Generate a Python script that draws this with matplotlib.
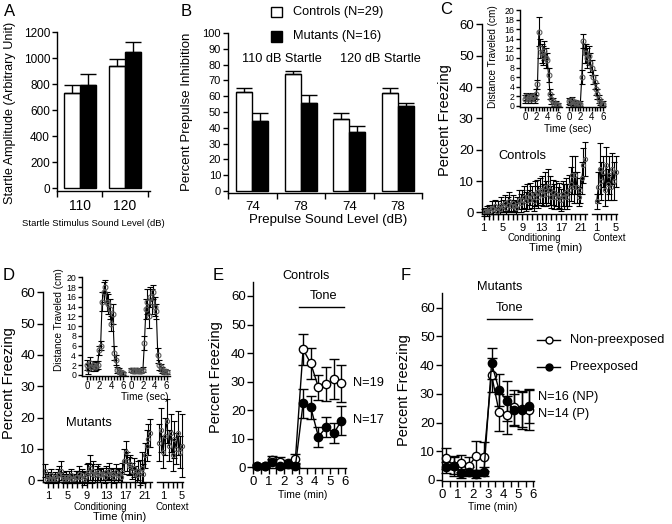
import matplotlib
matplotlib.use('Agg')
import matplotlib.pyplot as plt
import numpy as np
from matplotlib.patches import Rectangle
from matplotlib.lines import Line2D

plt.rcParams['font.family'] = ['Liberation Sans', 'DejaVu Sans']

# ---- A: startle amplitude
startle_levels = ['110', '120']
startle_ctrl = [735, 935]
startle_ctrl_err = [60, 60]
startle_mut = [795, 1045]
startle_mut_err = [80, 80]

# ---- B: prepulse inhibition
prepulse_levels = ['74', '78', '74', '78']
ppi_ctrl = [62.5, 74, 45.5, 62]
ppi_ctrl_err = [2.5, 2, 4, 3]
ppi_mut = [44, 55.5, 37.5, 53.5]
ppi_mut_err = [5.5, 5, 3.5, 2.5]

# ---- C: controls, conditioning (3 bins per minute) and context
c_cond_t = 1 + np.arange(64) / 3
c_cond = [0, 0.5, 0.5, 1, 0.5, 1.5, 1, 2, 0.5, 1.5, 1, 2.5,
          2, 3, 1.5, 2.5, 3.5, 2, 3, 2, 1.5, 2.5, 4, 3,
          4, 5, 3.5, 5, 4, 6, 5, 3.5, 6, 6.5, 5, 7,
          7, 5.5, 8, 6, 8.5, 7, 5, 6.5, 5, 6, 4.5, 5.5,
          4, 6, 5, 6.5, 5, 7, 9, 12, 8, 12, 8, 5,
          7, 11, 15, 17]
c_cond_err = [1, 1, 1.5, 1.5, 1, 2, 1.5, 2, 1, 2, 1.5, 2.5,
              2, 2.5, 2, 2.5, 3, 2, 2.5, 2, 2, 2.5, 3, 3,
              3, 3.5, 3, 4, 3, 3.5, 3.5, 3, 4, 4, 3.5, 4,
              4.5, 3.5, 5, 4, 5.5, 4.5, 3.5, 4, 4, 4, 3.5, 4,
              3.5, 4, 4, 4.5, 4, 5, 5.5, 6, 5, 6, 5, 3,
              4, 5, 5.5, 5.5]
c_ctx_t = 1 + np.arange(13) / 3
c_ctx = [3.5, 8, 14, 10, 13, 7, 15, 9, 12, 8, 14, 10, 13]
c_ctx_err = [2.5, 5, 8, 6, 5, 5, 6, 5, 6, 4, 5, 6, 5]

# ---- C inset: distance traveled around the two shocks
inset_t = np.arange(25) * 0.25
c_shock1 = [1.5, 2, 1.5, 1.8, 1.5, 2, 1.8, 1.5, 2.5, 4.5, 15.5, 12, 11,
            10.5, 11.5, 10, 9.5, 6.5, 2.5, 1.5, 1, 0.5, 0.5, 0.3, 0.3]
c_shock1_err = [0.8, 0.8, 0.8, 0.8, 0.8, 0.8, 0.8, 0.8, 1, 1, 3, 2, 2,
                2, 2, 2, 1.5, 1.5, 1, 1, 0.6, 0.5, 0.5, 0.4, 0.4]
c_shock2 = [1, 0.8, 1.2, 0.5, 0.8, 0.5, 0.6, 0.3, 0.5, 6, 13.5, 11, 11,
            10, 10.5, 9, 8, 6, 5, 3.5, 2.5, 1.5, 0.8, 0.5, 0.5]
c_shock2_err = [0.6, 0.6, 0.6, 0.5, 0.5, 0.5, 0.5, 0.4, 0.5, 1.5, 1.5, 2, 2,
                2, 2, 2, 1.5, 1.5, 1.5, 1.2, 1, 0.8, 0.6, 0.5, 0.5]

# ---- D: mutants, conditioning and context
d_cond_t = (1 + np.arange(66)) / 3
d_cond = [3, 0.5, 1, 0.5, 1.5, 0.5, 1, 0.5, 1.5, 2, 3, 1,
          0.5, 1, 0.5, 1, 1.5, 0.5, 0.5, 1, 1, 2, 1, 1.5,
          0.5, 1, 2, 2.5, 4, 2, 3, 1.5, 2, 2.5, 1.5, 2,
          2, 1, 2.5, 2, 3, 1.5, 2, 1, 2.5, 1.5, 2, 1,
          2.5, 6, 9, 6, 4.5, 5, 3, 4, 2, 1.5, 3, 2.5,
          4, 2, 8, 11, 13, 15]
d_cond_err = [2, 1.5, 1.5, 1.5, 2, 1.5, 1.5, 1.5, 2, 2.5, 3, 1.5,
              1.5, 2, 1.5, 2, 2, 1.5, 1.5, 2, 2, 2.5, 2, 2,
              2, 2, 3, 3, 4, 3, 3, 2, 2.5, 2.5, 2, 2,
              2, 2, 2, 2, 2.5, 2, 2, 2, 2.5, 2, 2, 1.5,
              3, 4, 3.5, 3, 3, 3, 2.5, 3, 2.5, 2, 3, 4,
              5, 3, 4, 5, 5, 4.5]
d_ctx_t = 0.2 + np.arange(13) * 0.4
d_ctx = [12, 16, 9, 14, 19, 11, 15, 8, 13, 10, 15, 9, 11]
d_ctx_err = [6, 7, 5, 6, 7, 5, 6, 5, 6, 5, 7, 5, 10]

d_shock1 = [2, 1.2, 2.5, 1.5, 2, 1.5, 1.8, 2, 5, 6, 15, 17, 18,
            15, 14.5, 13.5, 10.5, 12.5, 4.5, 3, 1, 0.8, 0.5, 0.3, 0.3]
d_shock1_err = [1, 1, 1.2, 0.8, 0.8, 0.8, 0.8, 0.8, 1, 1, 2, 2, 1.5,
                2, 2, 2, 1.5, 2, 1.5, 1, 0.6, 0.5, 0.4, 0.3, 0.3]
d_shock2 = [1, 0.8, 1, 0.8, 1, 0.8, 0.7, 0.8, 1, 6.5, 13.5, 15, 12,
            16, 15, 17, 14, 13, 4, 2, 1.5, 1, 0.5, 0.8, 0.5]
d_shock2_err = [0.4, 0.4, 0.4, 0.4, 0.4, 0.4, 0.4, 0.4, 0.5, 1.5, 2, 2.5, 2.5,
                2, 2.5, 1.5, 2, 1.5, 1.5, 1, 0.8, 0.6, 0.4, 0.4, 0.4]

# ---- E / F: tone test after preexposure
tone_t = np.arange(12) * 0.5 + 0.25
e_np = [0.5, 0.5, 2.5, 2, 1.5, 3, 41.3, 36.4, 28, 29.2, 30.8, 29.4]
e_np_err = [0.5, 0.5, 1.5, 1.5, 1, 1.5, 5.5, 5.5, 4.5, 6, 7, 6.5]
e_p = [0.5, 0.5, 2, 0.5, 1, 0.5, 22.4, 21, 10.7, 14, 11.9, 16.3]
e_p_err = [0.3, 0.3, 1, 0.5, 0.5, 0.5, 5, 4, 3.5, 3.5, 3.5, 5]
f_np = [7.5, 5, 5.8, 4.9, 8.5, 8.1, 36.6, 23.6, 22.6, 25.3, 24.6, 24.4]
f_np_err = [3.5, 3, 3, 3, 5, 5, 6, 6.5, 6.5, 6, 6, 7]
f_p = [4.4, 4.9, 2.3, 2.9, 2.1, 2.9, 40.6, 31.3, 27.5, 24.4, 24.4, 25.8]
f_p_err = [2, 3.5, 1.5, 1.5, 1.5, 1.5, 5.5, 5.5, 7, 5.5, 6.5, 6]

W, H = 672, 524
fig = plt.figure(figsize=(6.72, 5.24), dpi=100)


def box(l, t, r, b):
    # axes rectangle given in pixel coordinates (origin top-left)
    return fig.add_axes([l / W, 1 - b / H, (r - l) / W, (b - t) / H])


def txt(x, y, s, size, **kw):
    kw.setdefault('ha', 'center')
    fig.text(x / W, 1 - y / H, s, size=size, va='center', **kw)


def style(ax, left=True, size=9):
    for side in ['top', 'right']:
        ax.spines[side].set_visible(False)
    for side in ['left', 'bottom']:
        ax.spines[side].set_linewidth(1)
    if not left:
        ax.spines['left'].set_visible(False)
        ax.tick_params(axis='y', left=False, labelleft=False)
    ax.patch.set_alpha(0)
    ax.tick_params(direction='out', width=1, length=3.5, labelsize=size, pad=1.5)


def bars(ax, ctrl, ctrl_err, mut, mut_err, width):
    x = np.arange(len(ctrl))
    ekw = dict(ecolor='black', elinewidth=1, capsize=6, capthick=1)
    ax.bar(x - width / 2, ctrl, width, color='white', edgecolor='black', lw=1,
           yerr=[np.zeros(len(ctrl)), ctrl_err], error_kw=ekw)
    ax.bar(x + width / 2, mut, width, color='black', edgecolor='black', lw=1,
           yerr=[np.zeros(len(mut)), mut_err], error_kw=ekw)


def course(ax, t, y, err, ms=3):
    ax.errorbar(t, y, yerr=err, color='black', lw=0.8, elinewidth=0.8,
                capsize=2.5, capthick=0.8, marker='o', ms=ms, mfc='none',
                mec='#5a5a5a', mew=0.8, clip_on=False)


# ---------------- A
ax = box(57, 32, 150, 191)
style(ax, size=8.5)
bars(ax, startle_ctrl, startle_ctrl_err, startle_mut, startle_mut_err, 0.355)
ax.set_xlim(-0.5, 1.55)
ax.set_ylim(-22, 1200)
ax.set_yticks(range(0, 1201, 200))
ax.set_xticks(range(len(startle_levels)))
ax.set_xticklabels(startle_levels, size=10)
ax.tick_params(axis='x', length=0, pad=6)
ax.set_xticks([-0.5, 0.5, 1.5], minor=True)
ax.tick_params(axis='x', which='minor', length=4, width=1)
txt(4, 11, 'A', 12, ha='left')
txt(10, 113, 'Startle Amplitude (Arbitrary Unit)', 9.1, rotation=90)
txt(93, 223, 'Startle Stimulus Sound Level (dB)', 6.8)

# ---------------- B
ax = box(228, 33, 422, 192.7)
style(ax, size=8)
bars(ax, ppi_ctrl, ppi_ctrl_err, ppi_mut, ppi_mut_err, 0.33)
ax.set_xlim(-0.5, 3.5)
ax.set_ylim(-1.1, 100)
ax.set_yticks(range(0, 101, 10))
ax.set_xticks(range(len(prepulse_levels)))
ax.set_xticklabels(prepulse_levels, size=9.5)
ax.tick_params(axis='x', length=0, pad=6)
ax.set_xticks([-0.5, 0.5, 1.5, 2.5, 3.5], minor=True)
ax.tick_params(axis='x', which='minor', length=4, width=1)
txt(181, 12, 'B', 12, ha='left')
txt(187, 112, 'Percent Prepulse Inhibition', 9.5, rotation=90)
txt(328, 220, 'Prepulse Sound Level (dB)', 9.5)
txt(281.7, 59, '110 dB Startle', 9.2)
txt(380.7, 59, '120 dB Startle', 9.2)
fig.add_artist(Rectangle((271 / W, 1 - 17.3 / H), 10.7 / W, 10 / H, transform=fig.transFigure,
                         facecolor='white', edgecolor='black', lw=1))
fig.add_artist(Rectangle((271 / W, 1 - 41.7 / H), 10.7 / W, 10.5 / H, transform=fig.transFigure,
                         facecolor='black', edgecolor='black', lw=1))
txt(292.7, 12, 'Controls (N=29)', 9.2, ha='left')
txt(292.7, 36, 'Mutants (N=16)', 9.2, ha='left')


def freezing_panel(l, t, r_cond, l_ctx, r_ctx, b, cond_xlim, ctx_xlim,
                   cond_t, cond, cond_err, ctx_t, ctx, ctx_err):
    ax = box(l, t, r_cond, b)
    style(ax, size=9.5)
    course(ax, cond_t, cond, cond_err)
    ax.set_xlim(*cond_xlim)
    ax.set_ylim(-0.5, 60)
    ax.set_yticks(range(0, 61, 10))
    ax.set_xticks(range(1, 23))
    ax.set_xticklabels([str(m) if m % 4 == 1 else '' for m in range(1, 23)], size=8)
    ax.tick_params(axis='x', length=4.5, pad=2)
    ax.tick_params(axis='y', length=4.5)
    ax2 = box(l_ctx, t, r_ctx, b)
    style(ax2, left=False, size=8)
    course(ax2, ctx_t, ctx, ctx_err)
    ax2.set_xlim(*ctx_xlim)
    ax2.set_ylim(-0.5, 60)
    ax2.set_xticks(range(1, 6))
    ax2.set_xticklabels(['1', '', '', '', '5'], size=8)
    ax2.tick_params(axis='x', length=4.5, pad=2)


def inset(l1, r1, l2, r2, t, b, xlim1, xlim2, s1, e1, s2, e2):
    for i, (l, r, xl, y, e) in enumerate([(l1, r1, xlim1, s1, e1), (l2, r2, xlim2, s2, e2)]):
        ax = box(l, t, r, b)
        style(ax, left=(i == 0), size=6.3)
        course(ax, inset_t, y, e, ms=3.5)
        ax.set_xlim(*xl)
        ax.set_ylim(-0.15, 20)
        ax.set_yticks(range(0, 21, 2))
        ax.set_xticks(np.arange(0, 6.01, 0.5))
        ax.set_xticklabels(['0', '', '', '', '2', '', '', '', '4', '', '', '', '6'], size=7)
        ax.tick_params(length=3, pad=1)


# ---------------- C
freezing_panel(482, 24.3, 587, 592, 617, 214, (0.65, 22.4), (0, 5.3),
               c_cond_t, c_cond, c_cond_err, c_ctx_t, c_ctx, c_ctx_err)
inset(520, 562, 566, 605, 10, 106.7, (-0.9, 6.67), (-0.53, 6.35),
      c_shock1, c_shock1_err, c_shock2, c_shock2_err)
txt(440, 10, 'C', 12, ha='left')
txt(445, 120, 'Percent Freezing', 10.5, rotation=90)
txt(493, 57, 'Distance Traveled (cm)', 7.2, rotation=90)
txt(568, 129, 'Time (sec)', 7.3)
txt(522.5, 156, 'Controls', 9.3)
txt(534, 238, 'Conditioning', 6.9)
txt(556, 248, 'Time (min)', 8.1)
txt(609.5, 238, 'Context', 7)

# ---------------- D
freezing_panel(43.3, 292.3, 151.7, 156.7, 183.3, 481.7, (0, 22.4), (-0.33, 5.27),
               d_cond_t, d_cond, d_cond_err, d_ctx_t, d_ctx, d_ctx_err)
inset(81.7, 127.7, 130, 170, 277.3, 375.5, (-0.86, 6.7), (-0.17, 6.55),
      d_shock1, d_shock1_err, d_shock2, d_shock2_err)
txt(3, 275, 'D', 12, ha='left')
txt(9, 383, 'Percent Freezing', 10.5, rotation=90)
txt(59.5, 320, 'Distance Traveled (cm)', 7.2, rotation=90)
txt(145, 397, 'Time (sec)', 7.3)
txt(89, 423, 'Mutants', 9.3)
txt(100, 506.7, 'Conditioning', 6.9)
txt(119.5, 516.7, 'Time (min)', 8.1)
txt(172.5, 506.7, 'Context', 7)


def tone_panel(l, t, r, b, np_y, np_e, p_y, p_e):
    ax = box(l, t, r, b)
    style(ax, size=9.5)
    ax.errorbar(tone_t, np_y, yerr=np_e, color='black', lw=1, elinewidth=1, capsize=3.5,
                capthick=1, marker='o', ms=6, mfc='white', mec='black', mew=1, clip_on=False)
    ax.errorbar(tone_t, p_y, yerr=p_e, color='black', lw=1, elinewidth=1, capsize=3.5,
                capthick=1, marker='o', ms=6, mfc='black', mec='black', mew=1, clip_on=False)
    ax.set_xlim(0, 6.05)
    ax.set_ylim(-0.35, 65)
    ax.set_yticks(range(0, 61, 10))
    ax.set_xticks(np.arange(0, 6.01, 0.5))
    ax.set_xticklabels(['0', '', '1', '', '2', '', '3', '', '4', '', '5', '', '6'], size=9.5)
    ax.tick_params(axis='x', length=4, pad=1.5)
    ax.tick_params(axis='y', length=4)
    return ax


# ---------------- E
tone_panel(253.3, 281.7, 346, 468.3, e_np, e_np_err, e_p, e_p_err)
txt(213, 275, 'E', 12, ha='left')
txt(216, 377, 'Percent Freezing', 10.5, rotation=90)
txt(306, 276, 'Controls', 9.2)
txt(323.3, 296, 'Tone', 9.2)
fig.add_artist(Line2D([299.3 / W, 344 / W], [1 - 307.3 / H] * 2, color='black', lw=1))
txt(352.7, 382.7, 'N=19', 9.2, ha='left')
txt(352.7, 420, 'N=17', 9.2, ha='left')
txt(303, 495, 'Time (min)', 7.5)

# ---------------- F
tone_panel(442.3, 293.3, 534, 481, f_np, f_np_err, f_p, f_p_err)
txt(401, 275, 'F', 12, ha='left')
txt(404, 390, 'Percent Freezing', 10.5, rotation=90)
txt(499.3, 287.3, 'Mutants', 9.2)
txt(510, 308.3, 'Tone', 9.2)
fig.add_artist(Line2D([487.3 / W, 532.3 / W], [1 - 319.3 / H] * 2, color='black', lw=1))
for yy, face, label in [(340, 'white', 'Non-preexposed'), (366.7, 'black', 'Preexposed')]:
    fig.add_artist(Line2D([537.3 / W, 560 / W], [1 - yy / H] * 2, color='black', lw=1))
    fig.add_artist(Line2D([548.7 / W], [1 - yy / H], marker='o', ms=5, mfc=face,
                          mec='black', mew=1, color='black'))
    txt(570, yy, label, 9.2, ha='left')
txt(538.3, 396.7, 'N=16 (NP)', 9.2, ha='left')
txt(538.3, 414, 'N=14 (P)', 9.2, ha='left')
txt(493, 507.3, 'Time (min)', 7.5)

fig.savefig('out.png', dpi=100)
